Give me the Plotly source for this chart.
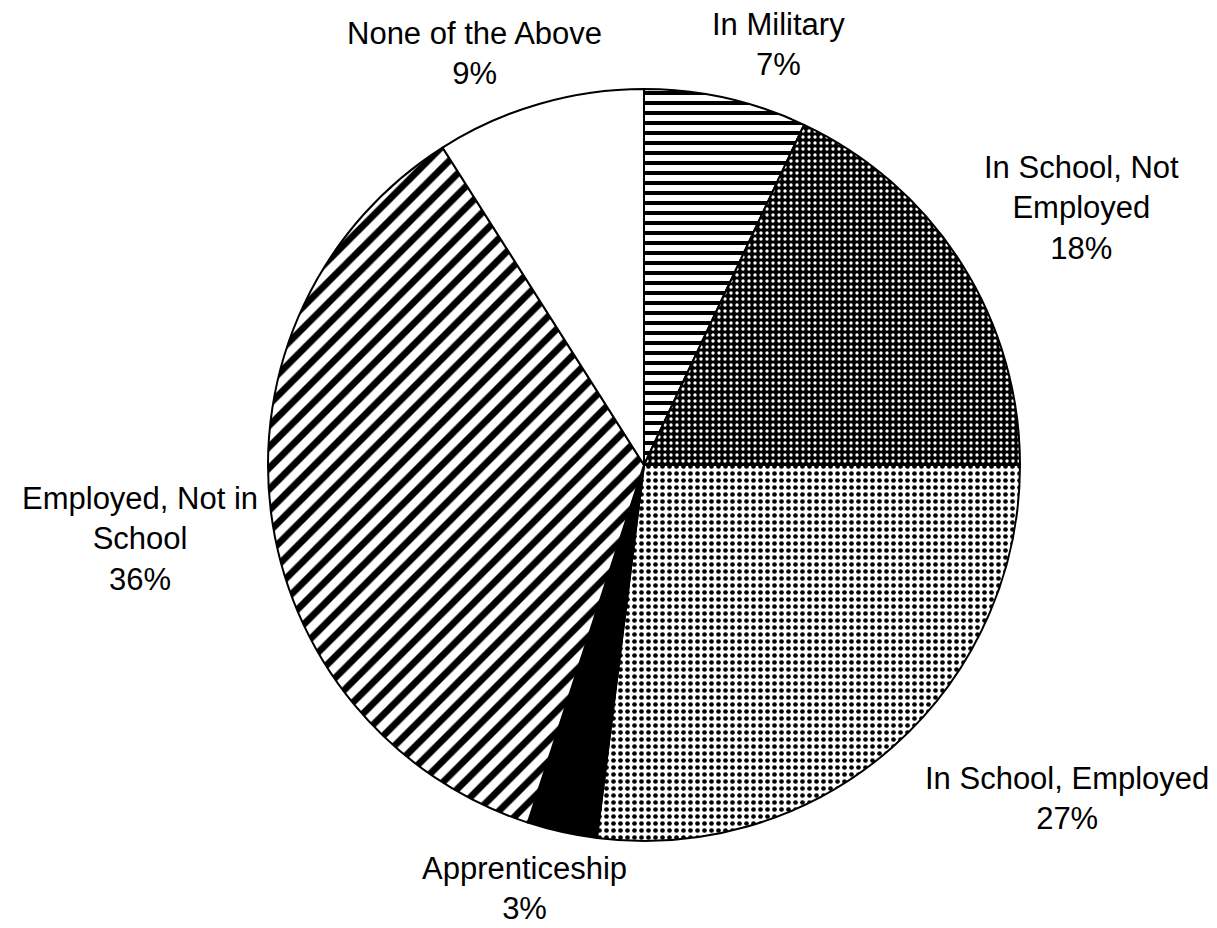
import plotly.graph_objects as go

# Data
categories = ["In Military", "In School, Not Employed", "In School, Employed",
              "Apprenticeship", "Employed, Not in School", "None of the Above"]
display_labels = ["In Military", "In School, Not<br>Employed", "In School, Employed",
                  "Apprenticeship", "Employed, Not in<br>School", "None of the Above"]
values = [7, 18, 27, 3, 36, 9]

# Styles
shapes = ["-", ".", ".", "", "/", ""]
fgcolors = ["black", "white", "black", "black", "black", "black"]
bgcolors = ["white", "black", "white", "black", "white", "white"]
psizes = [10, 6, 7, 8, 15, 8]
solid = [0.4, 0.25, 0.35, 0.3, 0.45, 0.3]

W, H = 1217, 928
cx, cy, r = 636, 457, 376

# label block centres (pixels)
label_pos = [(770, 37), (1073, 200), (1059, 790), (516, 880), (132, 531), (466, 45)]

fig = go.Figure(go.Pie(
    labels=categories,
    values=values,
    sort=False,
    direction="clockwise",
    rotation=0,
    textinfo="none",
    hoverinfo="label+percent",
    marker=dict(
        colors=bgcolors,
        line=dict(color="black", width=2),
        pattern=dict(shape=shapes, fgcolor=fgcolors, bgcolor=bgcolors,
                     size=psizes, solidity=solid, fillmode="replace"),
    ),
    domain=dict(x=[(cx - r) / W, (cx + r) / W],
                y=[(H - cy - r) / H, (H - cy + r) / H]),
    showlegend=False,
))

for lab, v, (px, py) in zip(display_labels, values, label_pos):
    fig.add_annotation(
        x=px / W, y=1 - py / H, xref="paper", yref="paper",
        text=f"{lab}<br>{v}%", showarrow=False,
        xanchor="center", yanchor="middle", align="center",
        font=dict(family="Arial, Liberation Sans, sans-serif", size=31, color="black"),
    )

fig.update_layout(
    width=W, height=H,
    margin=dict(l=0, r=0, t=0, b=0),
    paper_bgcolor="white", plot_bgcolor="white",
)

fig.write_html("out.html")
